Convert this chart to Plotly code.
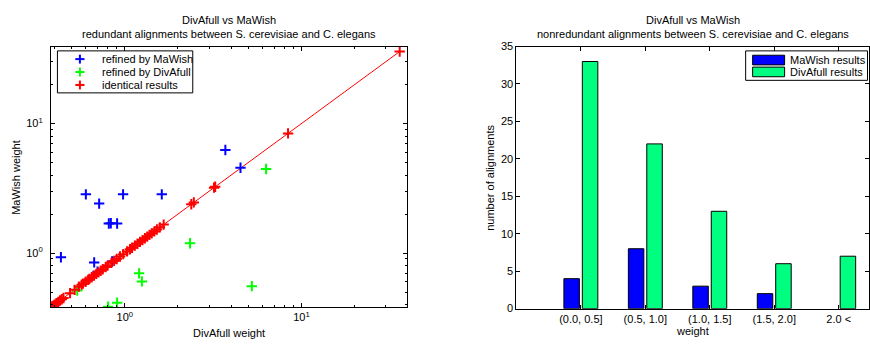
import plotly.graph_objects as go

# ---------------- data ----------------
# Left: weights per alignment (DivAfull weight, MaWish weight)
mawish_x = [3.71, 4.52, 0.602, 0.716, 0.978, 1.62, 0.812, 0.834, 0.905, 0.435, 0.671, 0.848, 0.701]
mawish_y = [6.25, 4.56, 2.84, 2.41, 2.84, 2.84, 1.69, 1.70, 1.69, 0.929, 0.847, 0.861, 0.718]

divafull_x = [6.31, 2.34, 1.205, 1.25, 5.24, 0.538, 0.905, 0.805]
divafull_y = [4.46, 1.19, 0.697, 0.604, 0.555, 0.514, 0.414, 0.385]

identical_w = [0.385, 0.39, 0.40, 0.41, 0.42, 0.43, 0.44, 0.45, 0.49, 0.52, 0.55, 0.57,
               0.58, 0.60, 0.62, 0.63, 0.65, 0.67, 0.69, 0.71, 0.73, 0.75, 0.78, 0.80,
               0.84, 0.87, 0.90, 0.94, 0.98, 1.03, 1.07, 1.10, 1.14, 1.18, 1.22, 1.26,
               1.30, 1.34, 1.38, 1.42, 1.47, 1.52, 1.58, 1.66, 2.38, 2.46, 3.20, 3.25,
               8.4, 36.0]

# Right: counts per weight bin
bins = ["(0.0, 0.5]", "(0.5, 1.0]", "(1.0, 1.5]", "(1.5, 2.0]", "2.0 <"]
mawish_counts = [4, 8, 3, 2, 0]
divafull_counts = [33, 22, 13, 6, 7]

legend_left = ["refined by MaWish", "refined by DivAfull", "identical results"]
legend_right = ["MaWish results", "DivAfull results"]

# ---------------- styling ----------------
W, H = 870, 346
FONT = "Liberation Sans, Arial, Helvetica, sans-serif"
BLUE = "#0000FF"
GREEN = "#00FF00"
RED = "#FF0000"
BAR_BLUE = "#0000FF"
BAR_GREEN = "#00FF80"


def px(x):
    return x / W


def py(y):
    return 1 - y / H


fig = go.Figure()

mk = dict(symbol="cross-thin", size=7.4)
fig.add_trace(go.Scatter(x=identical_w, y=identical_w, mode="lines",
                         line=dict(color=RED, width=1), showlegend=False,
                         xaxis="x", yaxis="y", hoverinfo="skip"))
fig.add_trace(go.Scatter(x=mawish_x, y=mawish_y, mode="markers", name=legend_left[0],
                         marker=dict(**mk, color=BLUE, line=dict(color=BLUE, width=2)),
                         showlegend=False, xaxis="x", yaxis="y"))
fig.add_trace(go.Scatter(x=divafull_x, y=divafull_y, mode="markers", name=legend_left[1],
                         marker=dict(**mk, color=GREEN, line=dict(color=GREEN, width=2)),
                         showlegend=False, xaxis="x", yaxis="y"))
fig.add_trace(go.Scatter(x=identical_w, y=identical_w, mode="markers", name=legend_left[2],
                         marker=dict(**mk, color=RED, line=dict(color=RED, width=2)),
                         showlegend=False, xaxis="x", yaxis="y"))

# hide outline of zero-height bars
mawish_edge = [1 if v > 0 else 0 for v in mawish_counts]
divafull_edge = [1 if v > 0 else 0 for v in divafull_counts]
fig.add_trace(go.Bar(x=bins, y=mawish_counts, name=legend_right[0],
                     marker=dict(color=BAR_BLUE, line=dict(color="black", width=mawish_edge)),
                     showlegend=False, xaxis="x2", yaxis="y2"))
fig.add_trace(go.Bar(x=bins, y=divafull_counts, name=legend_right[1],
                     marker=dict(color=BAR_GREEN, line=dict(color="black", width=divafull_edge)),
                     showlegend=False, xaxis="x2", yaxis="y2"))

minor_log = [0.4, 0.5, 0.6, 0.7, 0.8, 0.9, 2, 3, 4, 5, 6, 7, 8, 9, 20, 30]
axis_common = dict(showline=True, linecolor="black", linewidth=1, mirror="ticks",
                   ticks="inside", ticklen=4, tickcolor="black", showgrid=False,
                   zeroline=False, tickfont=dict(family=FONT, size=11, color="black"))

log_range = [-0.418, 1.595]
fig.update_layout(
    width=W, height=H,
    margin=dict(l=0, r=0, t=0, b=0),
    paper_bgcolor="white", plot_bgcolor="white",
    font=dict(family=FONT, size=11, color="black"),
    showlegend=False,
    barmode="group", bargap=0.428, bargroupgap=0.16,
    xaxis=dict(**axis_common, type="log", range=log_range,
               domain=[px(51), px(407)], anchor="y",
               tickvals=[1, 10], ticktext=["10<sup>0</sup>", "10<sup>1</sup>"],
               minor=dict(tickvals=minor_log, ticks="inside", ticklen=2, tickcolor="black")),
    yaxis=dict(**axis_common, type="log", range=log_range,
               domain=[py(312), py(42)], anchor="x",
               tickvals=[1, 10], ticktext=["10<sup>0</sup>", "10<sup>1</sup>"],
               ticklabelstandoff=5,
               minor=dict(tickvals=minor_log, ticks="inside", ticklen=2, tickcolor="black")),
    xaxis2=dict(**axis_common, type="category", range=[-1, 4.47],
                domain=[px(517), 1.0], anchor="y2"),
    yaxis2=dict(**axis_common, range=[0, 35], dtick=5,
                domain=[py(313.5), py(42)], anchor="x2"),
)

# ---------------- titles / axis labels ----------------
ann = []


def text(x, y, s, angle=0, xanchor="center"):
    ann.append(dict(x=px(x), y=py(y), xref="paper", yref="paper", text=s,
                    showarrow=False, xanchor=xanchor, yanchor="middle",
                    textangle=angle, font=dict(family=FONT, size=11, color="black")))


text(229, 14, "DivAfull vs MaWish")
text(229, 29.5, "redundant alignments between S. cerevisiae and C. elegans")
text(229, 339, "DivAfull weight")
text(16, 177, "MaWish weight", angle=-90)

text(693.5, 14, "DivAfull vs MaWish")
text(693.5, 29.5, "nonredundant alignments between S. cerevisiae and C. elegans")
text(693.5, 336.5, "weight")
text(491, 177.5, "number of alignments", angle=-90)

# ---------------- legends (drawn manually) ----------------
shapes = []
# left legend box
shapes.append(dict(type="rect", xref="paper", yref="paper",
                   x0=px(57.5), x1=px(193), y0=py(90), y1=py(46.5),
                   line=dict(color="black", width=1), fillcolor="white", layer="above"))
for i, (lbl, col) in enumerate(zip(legend_left, [BLUE, GREEN, RED])):
    cy = 55 + i * 13.4
    cx = 80
    arm = 4.6
    shapes.append(dict(type="line", xref="paper", yref="paper",
                       x0=px(cx - arm), x1=px(cx + arm), y0=py(cy), y1=py(cy),
                       line=dict(color=col, width=2), layer="above"))
    shapes.append(dict(type="line", xref="paper", yref="paper",
                       x0=px(cx), x1=px(cx), y0=py(cy - arm), y1=py(cy + arm),
                       line=dict(color=col, width=2), layer="above"))
    text(100, cy, lbl, xanchor="left")

# right legend box
shapes.append(dict(type="rect", xref="paper", yref="paper",
                   x0=px(746.5), x1=px(868.5), y0=py(77), y1=py(46.5),
                   line=dict(color="black", width=1), fillcolor="white", layer="above"))
for i, (lbl, col) in enumerate(zip(legend_right, [BAR_BLUE, BAR_GREEN])):
    y0 = 51 + i * 12.3
    shapes.append(dict(type="rect", xref="paper", yref="paper",
                       x0=px(753.5), x1=px(785.5), y0=py(y0 + 10), y1=py(y0),
                       line=dict(color="black", width=1), fillcolor=col, layer="above"))
    text(789, y0 + 5, lbl, xanchor="left")

fig.update_layout(annotations=ann, shapes=shapes)

fig.write_html("out.html")
